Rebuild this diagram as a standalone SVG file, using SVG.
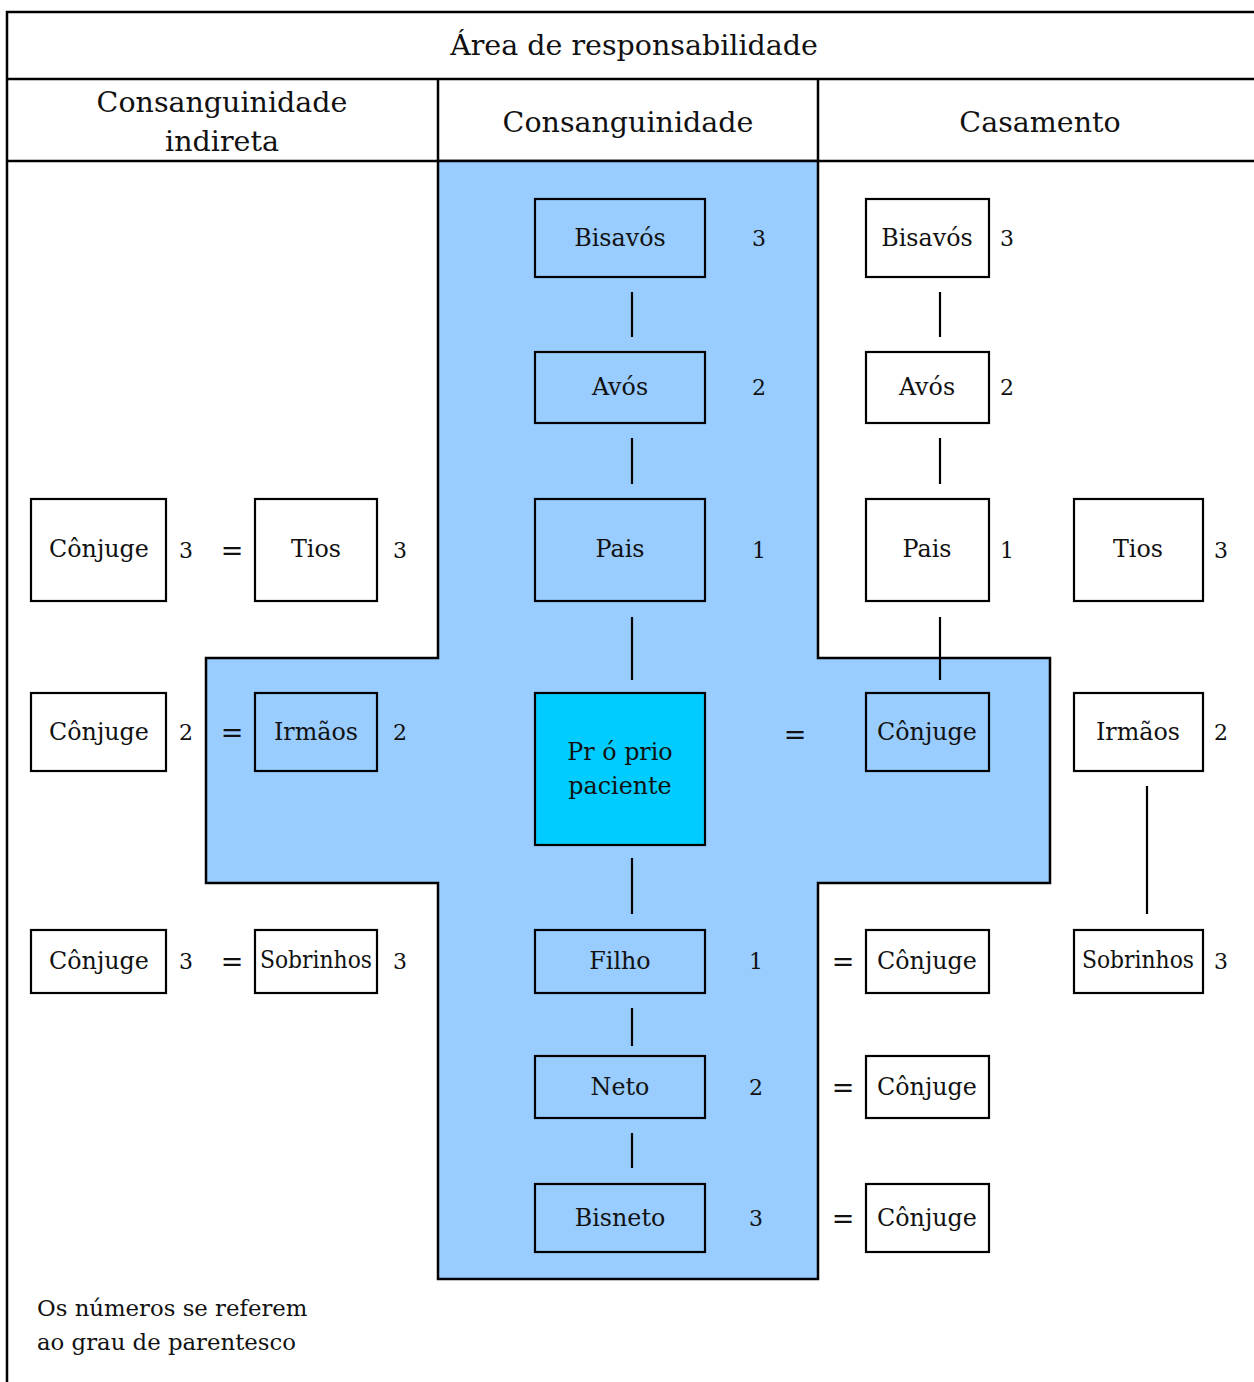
<svg xmlns="http://www.w3.org/2000/svg" width="1254" height="1382" viewBox="0 0 1254 1382">
<style>
text{font-family:"DejaVu Serif","Liberation Serif",serif;fill:#111;}
.h{font-size:28.5px;text-anchor:middle;}
.t{font-size:23.8px;text-anchor:middle;}
.n{font-size:22px;text-anchor:middle;}
.e{font-size:27px;text-anchor:middle;}
.f{font-size:22.8px;}
.b{fill:#fff;stroke:#000;stroke-width:2.2;}
.bb{fill:#99CCFF;stroke:#000;stroke-width:2.2;}
.frame{fill:none;stroke:#000;stroke-width:2.5;}
.c{stroke:#000;stroke-width:2.2;fill:none;}
</style>
<rect x="0" y="0" width="1254" height="1382" fill="#fff"/>
<g id="frame">
<path class="frame" d="M7,1382 V12 H1254 M7,79 H1254 M7,161 H1254 M438,79 V161 M818,79 V161"/>
<text class="h" x="634" y="55">Área de responsabilidade</text>
<text class="h" x="222" y="112">Consanguinidade</text>
<text class="h" x="222" y="151">indireta</text>
<text class="h" x="628" y="132">Consanguinidade</text>
<text class="h" x="1040" y="132">Casamento</text>
</g>
<g id="area">
<path d="M438,161 V658 H206 V883 H438 V1279 H818 V883 H1050 V658 H818 V161 Z" fill="#99CCFF" stroke="#000" stroke-width="2.5"/>
</g>
<g id="connectors">
<path class="c" d="M632,292 V337 M632,438 V484 M632,617 V680 M632,858 V914 M632,1008 V1046 M632,1133 V1168 M940,292 V337 M940,438 V484 M940,617 V680 M1147,786 V914"/>
</g>
<g id="bisavos"><rect class="bb" x="535" y="199" width="170" height="78"/><text class="t" x="620" y="246">Bisavós</text><text class="n" x="759" y="246">3</text></g>
<g id="avos"><rect class="bb" x="535" y="352" width="170" height="71"/><text class="t" x="620" y="395">Avós</text><text class="n" x="759" y="395">2</text></g>
<g id="pais"><rect class="bb" x="535" y="499" width="170" height="102"/><text class="t" x="620" y="557">Pais</text><text class="n" x="759" y="558">1</text></g>
<g id="proprio"><rect x="535" y="693" width="170" height="152" fill="#00CCFF" stroke="#000" stroke-width="2.2"/><text class="t" x="620" y="760">Pr ó prio</text><text class="t" x="620" y="794">paciente</text><text class="e" x="795" y="744">=</text></g>
<g id="filho"><rect class="bb" x="535" y="930" width="170" height="63"/><text class="t" x="620" y="969">Filho</text><text class="n" x="756" y="969">1</text></g>
<g id="neto"><rect class="bb" x="535" y="1056" width="170" height="62"/><text class="t" x="620" y="1095">Neto</text><text class="n" x="756" y="1095">2</text></g>
<g id="bisneto"><rect class="bb" x="535" y="1184" width="170" height="68"/><text class="t" x="620" y="1226">Bisneto</text><text class="n" x="756" y="1226">3</text></g>
<g id="c-bisavos"><rect class="b" x="866" y="199" width="123" height="78"/><text class="t" x="927" y="246">Bisavós</text><text class="n" x="1007" y="246">3</text></g>
<g id="c-avos"><rect class="b" x="866" y="352" width="123" height="71"/><text class="t" x="927" y="395">Avós</text><text class="n" x="1007" y="395">2</text></g>
<g id="c-pais"><rect class="b" x="866" y="499" width="123" height="102"/><text class="t" x="927" y="557">Pais</text><text class="n" x="1007" y="558">1</text></g>
<g id="c-conjuge"><rect class="bb" x="866" y="693" width="123" height="78"/><text class="t" x="927" y="740">Cônjuge</text></g>
<g id="c-conjuge-filho"><rect class="b" x="866" y="930" width="123" height="63"/><text class="t" x="927" y="969">Cônjuge</text><text class="e" x="843" y="971">=</text></g>
<g id="c-conjuge-neto"><rect class="b" x="866" y="1056" width="123" height="62"/><text class="t" x="927" y="1095">Cônjuge</text><text class="e" x="843" y="1097">=</text></g>
<g id="c-conjuge-bisneto"><rect class="b" x="866" y="1184" width="123" height="68"/><text class="t" x="927" y="1226">Cônjuge</text><text class="e" x="843" y="1228">=</text></g>
<g id="r-tios"><rect class="b" x="1074" y="499" width="129" height="102"/><text class="t" x="1138" y="557">Tios</text><text class="n" x="1221" y="558">3</text></g>
<g id="r-irmaos"><rect class="b" x="1074" y="693" width="129" height="78"/><text class="t" x="1138" y="740">Irmãos</text><text class="n" x="1221" y="740">2</text></g>
<g id="r-sobrinhos"><rect class="b" x="1074" y="930" width="129" height="63"/><text class="t" x="1138" y="968" textLength="112" lengthAdjust="spacingAndGlyphs">Sobrinhos</text><text class="n" x="1221" y="969">3</text></g>
<g id="l-conjuge-tios"><rect class="b" x="31" y="499" width="135" height="102"/><text class="t" x="99" y="557">Cônjuge</text><text class="n" x="186" y="558">3</text><text class="e" x="232" y="560">=</text></g>
<g id="l-conjuge-irmaos"><rect class="b" x="31" y="693" width="135" height="78"/><text class="t" x="99" y="740">Cônjuge</text><text class="n" x="186" y="740">2</text><text class="e" x="232" y="742">=</text></g>
<g id="l-conjuge-sobrinhos"><rect class="b" x="31" y="930" width="135" height="63"/><text class="t" x="99" y="969">Cônjuge</text><text class="n" x="186" y="969">3</text><text class="e" x="232" y="971">=</text></g>
<g id="l-tios"><rect class="b" x="255" y="499" width="122" height="102"/><text class="t" x="316" y="557">Tios</text><text class="n" x="400" y="558">3</text></g>
<g id="l-irmaos"><rect class="bb" x="255" y="693" width="122" height="78"/><text class="t" x="316" y="740">Irmãos</text><text class="n" x="400" y="740">2</text></g>
<g id="l-sobrinhos"><rect class="b" x="255" y="930" width="122" height="63"/><text class="t" x="316" y="968" textLength="112" lengthAdjust="spacingAndGlyphs">Sobrinhos</text><text class="n" x="400" y="969">3</text></g>
<g id="note"><text class="f" x="37" y="1316">Os números se referem</text><text class="f" x="37" y="1350">ao grau de parentesco</text></g>
</svg>
